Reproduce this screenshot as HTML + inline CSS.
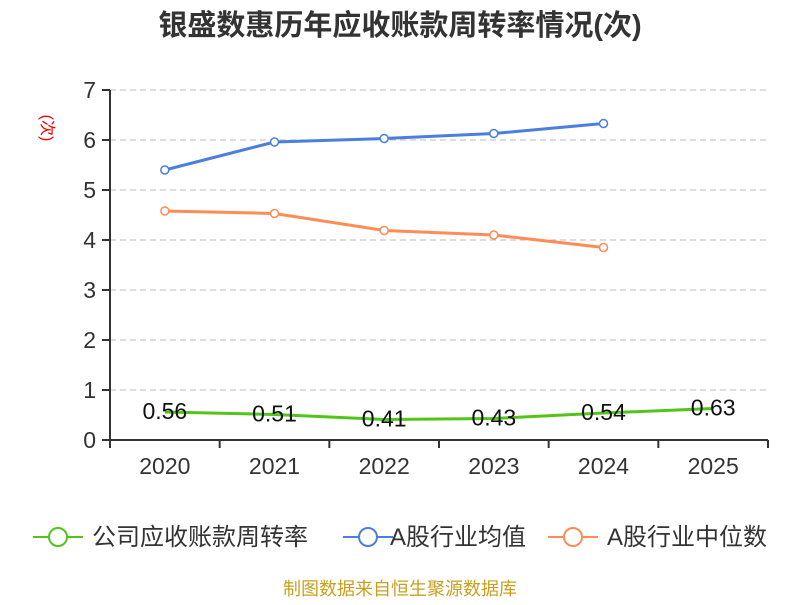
<!DOCTYPE html>
<html><head><meta charset="utf-8"><style>
body{margin:0;background:#fff;}
svg text{font-family:"Liberation Sans","Noto Sans CJK SC",sans-serif;}
</style></head><body>
<svg id="c" width="800" height="600" xmlns="http://www.w3.org/2000/svg">
<text x="400" y="35" text-anchor="middle" font-size="29" font-weight="bold" fill="#333">银盛数惠历年应收账款周转率情况(次)</text>
<text transform="translate(42,128) rotate(90)" text-anchor="middle" font-size="16" fill="#e00">(次)</text>
<g id="grid"></g><g id="axes"></g><g id="series"></g>
<g>
<g><line x1="33" y1="537" x2="83" y2="537" stroke="#52c41a" stroke-width="2"/><circle cx="58" cy="537" r="9" fill="#fff" stroke="#52c41a" stroke-width="2"/><text x="92" y="545" font-size="24" fill="#333">公司应收账款周转率</text></g>
<g><line x1="343" y1="537" x2="393" y2="537" stroke="#4a7fe0" stroke-width="2"/><circle cx="368" cy="537" r="9" fill="#fff" stroke="#4a7fe0" stroke-width="2"/><text x="390" y="545" font-size="24" fill="#333">A股行业均值</text></g>
<g><line x1="548" y1="537" x2="598" y2="537" stroke="#ff8c55" stroke-width="2"/><circle cx="573" cy="537" r="9" fill="#fff" stroke="#ff8c55" stroke-width="2"/><text x="607" y="545" font-size="24" fill="#333">A股行业中位数</text></g>
</g>
<text x="400" y="595" text-anchor="middle" font-size="18" fill="#c8a020">制图数据来自恒生聚源数据库</text>
</svg>
<script>
const categories=["2020","2021","2022","2023","2024","2025"];
const companyValues=[0.56,0.51,0.41,0.43,0.54,0.63];
const meanValues=[5.4,5.96,6.03,6.13,6.33];
const medianValues=[4.58,4.53,4.19,4.1,3.85];
const yTicks=[0,1,2,3,4,5,6,7];
const NS="http://www.w3.org/2000/svg";
const L=110,R=768,T=90,B=440,yMax=7;
const bw=(R-L)/categories.length;
const x=i=>L+bw*(i+0.5);
const y=v=>B-(v/yMax)*(B-T);
function mk(tag,attrs,parent){const e=document.createElementNS(NS,tag);for(const k in attrs)e.setAttribute(k,attrs[k]);parent.appendChild(e);return e;}
const grid=document.getElementById('grid'),axes=document.getElementById('axes'),ser=document.getElementById('series');
yTicks.forEach(t=>{
 if(t>0){const g=mk('line',{x1:L,x2:R,y1:y(t),y2:y(t),stroke:'#bbb','stroke-dasharray':'6,4'},grid);
 
 }
 const tk=mk('line',{x1:L-8,x2:L,y1:y(t),y2:y(t),stroke:'#333','stroke-width':2},axes);
 
 
 const tl=mk('text',{x:L-14,y:y(t)+8,'text-anchor':'end','font-size':23,fill:'#333'},axes);tl.textContent=t;
 
 
});
const ya=mk('line',{x1:L,x2:L,y1:T,y2:B,stroke:'#333','stroke-width':2},axes);


const xa=mk('line',{x1:L,x2:R,y1:B,y2:B,stroke:'#333','stroke-width':2},axes);


for(let i=0;i<=categories.length;i++){const tk=mk('line',{x1:L+bw*i,x2:L+bw*i,y1:B,y2:B+8,stroke:'#333','stroke-width':2},axes);
 
 }
categories.forEach((c,i)=>{const t=mk('text',{x:x(i),y:B+34,'text-anchor':'middle','font-size':23,fill:'#333'},axes);t.textContent=c;
 
 });
function line(vals,color,name,dots,labels){
 const p=mk('polyline',{points:vals.map((v,i)=>x(i)+','+y(v)).join(' '),fill:'none',stroke:color,'stroke-width':3,'stroke-linejoin':'round'},ser);
 
 
 vals.forEach((v,i)=>{
  if(dots){const c=mk('circle',{cx:x(i),cy:y(v),r:4,fill:'#fff',stroke:color,'stroke-width':1.5},ser);
  
  }
  if(labels){const t=mk('text',{x:x(i),y:y(v)+7,'text-anchor':'middle','font-size':23,fill:'#111'},ser);t.textContent=v.toFixed(2);
  
  }
 });
}
line(meanValues,'#4a7fe0','industry-mean',true,false);
line(medianValues,'#ff8c55','industry-median',true,false);
line(companyValues,'#52c41a','company',false,true);
</script>
</body></html>
